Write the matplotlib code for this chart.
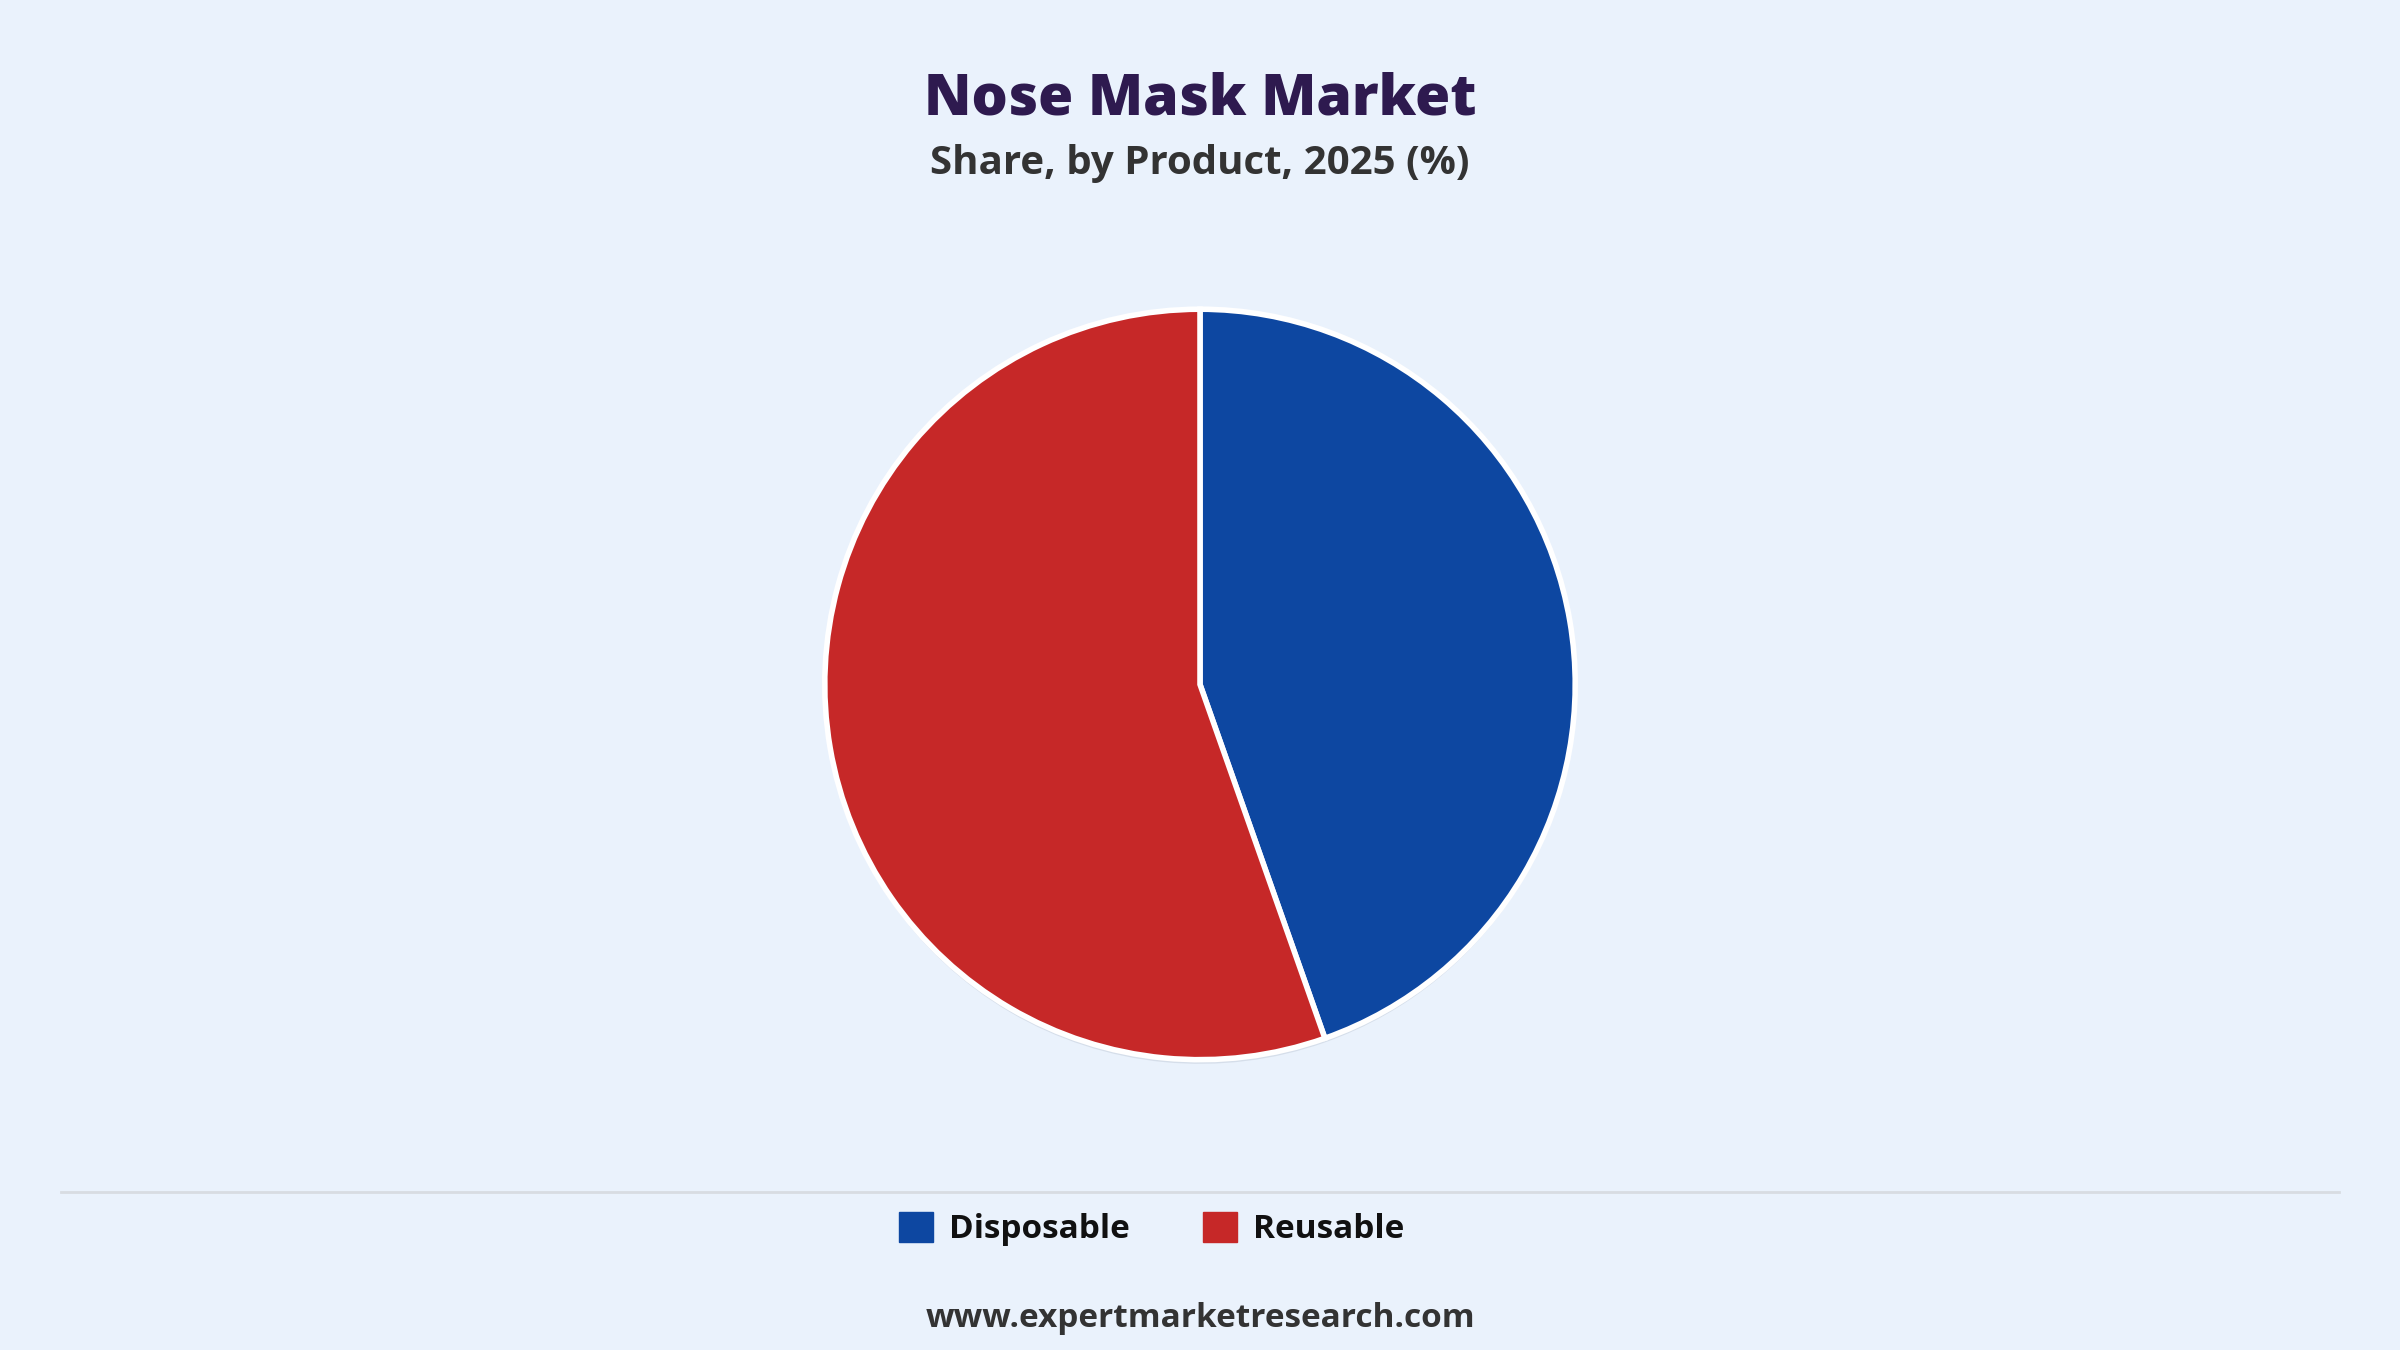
import matplotlib
matplotlib.use("Agg")
import matplotlib.pyplot as plt
from matplotlib.patches import Rectangle
from matplotlib.lines import Line2D
import matplotlib.patheffects as pe

categories = ["Disposable", "Reusable"]
values = [44.6, 55.4]
colors = ["#0D47A1", "#C62828"]

bg = "#EAF2FC"
fig = plt.figure(figsize=(24, 13.5), dpi=100, facecolor=bg)
plt.rcParams['font.family'] = ['Open Sans', 'DejaVu Sans']

h = 0.567; w = h * 1350 / 2400
ax = fig.add_axes([0.5 - w/2, 0.493 - h/2, w, h])
ax.set_facecolor(bg)
wedges, _ = ax.pie(values, colors=colors, startangle=90, counterclock=False,
                   wedgeprops=dict(edgecolor="white", linewidth=4), radius=1.0)
for wd in wedges:
    wd.set_path_effects([pe.SimplePatchShadow(offset=(0, -3), shadow_rgbFace="#9aa4b5", alpha=0.25), pe.Normal()])
ax.set_xlim(-1.02, 1.02); ax.set_ylim(-1.02, 1.02)
ax.set_aspect("equal")

fig.text(0.5, 0.926, "Nose Mask Market", ha="center", va="center", fontsize=41,
         fontweight="heavy", color="#2E1A4F")
fig.text(0.5, 0.879, "Share, by Product, 2025 (%)", ha="center", va="center", fontsize=29,
         fontweight="bold", color="#333333")

fig.add_artist(Line2D([40/1568, 1528/1568], [0.117, 0.117], color="#d8dce2", lw=2))

handles = [Rectangle((0, 0), 1, 1, facecolor=c, edgecolor=c) for c in colors]
leg = fig.legend(handles, categories, loc="center", bbox_to_anchor=(0.48, 0.0896), ncol=2,
                 frameon=False, fontsize=24, handlelength=1.0, handleheight=1.0,
                 columnspacing=2.2, handletextpad=0.5)
for t in leg.get_texts():
    t.set_fontweight("bold"); t.set_color("#111111")

fig.text(0.5, 0.023, "www.expertmarketresearch.com", ha="center", va="center", fontsize=24,
         fontweight="bold", color="#333333")

fig.savefig("out.png", dpi=100, facecolor=bg)
